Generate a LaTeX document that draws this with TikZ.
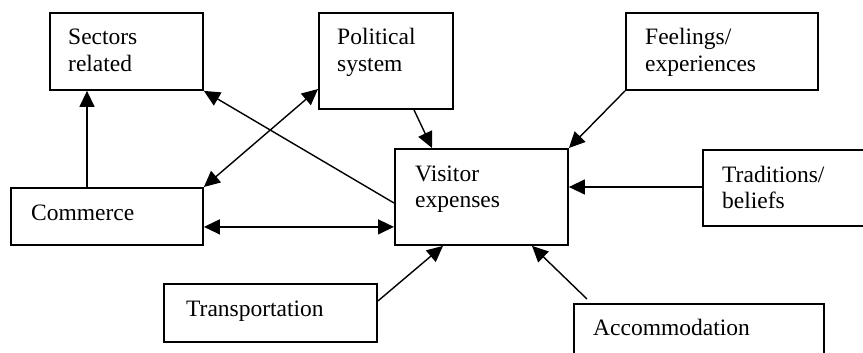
\documentclass[tikz,border=0pt]{standalone}
\usepackage{fontspec}
\setmainfont{Liberation Serif}
\usetikzlibrary{arrows.meta,calc}
\begin{document}
\begin{tikzpicture}[x=1pt,y=-1pt,
  box/.style={draw,line width=1.9pt,inner sep=0pt,anchor=north west},
  lbl/.style={anchor=base west,inner sep=0pt,font=\fontsize{23.5}{26.8}\selectfont},
  arr/.style={line width=1.4pt,-{Triangle[length=16pt,width=15pt]}},
  darr/.style={line width=1.4pt,{Triangle[length=16pt,width=15pt]}-{Triangle[length=16pt,width=15pt]}}]
\useasboundingbox (0,0) rectangle (863,353);
\clip (0,0) rectangle (863,353);
% boxes
\node[box,minimum width=153pt,minimum height=77pt] (sec) at (49,12) {};
\node[box,minimum width=134pt,minimum height=96pt] (pol) at (318,12) {};
\node[box,minimum width=192pt,minimum height=77pt] (fee) at (625,12) {};
\node[box,minimum width=173pt,minimum height=96pt] (vis) at (394,148) {};
\node[box,minimum width=192pt,minimum height=57pt] (com) at (10,187) {};
\node[box,minimum width=180pt,minimum height=76pt] (tra) at (702,149) {};
\node[box,minimum width=213pt,minimum height=58pt] (trn) at (163,283) {};
\node[box,minimum width=250pt,minimum height=80pt] (acc) at (573,303) {};
% labels
\node[lbl] (secT) at ($(sec.north west)+(19,33)$) {\begin{tabular}[t]{@{}l@{}}Sectors\\related\end{tabular}};
\node[lbl] (polT) at ($(pol.north west)+(19,33)$) {\begin{tabular}[t]{@{}l@{}}Political\\system\end{tabular}};
\node[lbl] (feeT) at ($(fee.north west)+(20,33)$) {\begin{tabular}[t]{@{}l@{}}Feelings/\\experiences\end{tabular}};
\node[lbl] (visT) at ($(vis.north west)+(21,33)$) {\begin{tabular}[t]{@{}l@{}}Visitor\\expenses\end{tabular}};
\node[lbl] (comT) at ($(com.north west)+(21,33)$) {Commerce};
\node[lbl] (traT) at ($(tra.north west)+(20,33)$) {\begin{tabular}[t]{@{}l@{}}Traditions/\\beliefs\end{tabular}};
\node[lbl] (trnT) at ($(trn.north west)+(23,33)$) {Transportation};
\node[lbl] (accT) at ($(acc.north west)+(20,32)$) {Accommodation};
% connectors
\draw[arr] ($(com.north west)+(77,0)$) -- ($(sec.south west)+(38,0)$);
\draw[arr] ($(vis.north west)+(0,55)$) -- (sec.south east);
\draw[darr] (com.north east) -- ($(pol.north west)+(0,77)$);
\draw[arr] ($(pol.south west)+(96,0)$) -- ($(vis.north west)+(38,0)$);
\draw[arr] (fee.south west) -- (vis.north east);
\draw[arr] ($(tra.north west)+(0,38)$) -- ($(vis.north east)+(0,39)$);
\draw[darr] ($(com.south east)+(0,-19)$) -- ($(vis.south west)+(0,-19)$);
\draw[arr] ($(trn.north east)+(0,18)$) -- ($(vis.south west)+(49,0)$);
\draw[arr] ($(acc.north west)+(14,-4)$) -- ($(vis.south west)+(138,0)$);
\end{tikzpicture}
\end{document}
